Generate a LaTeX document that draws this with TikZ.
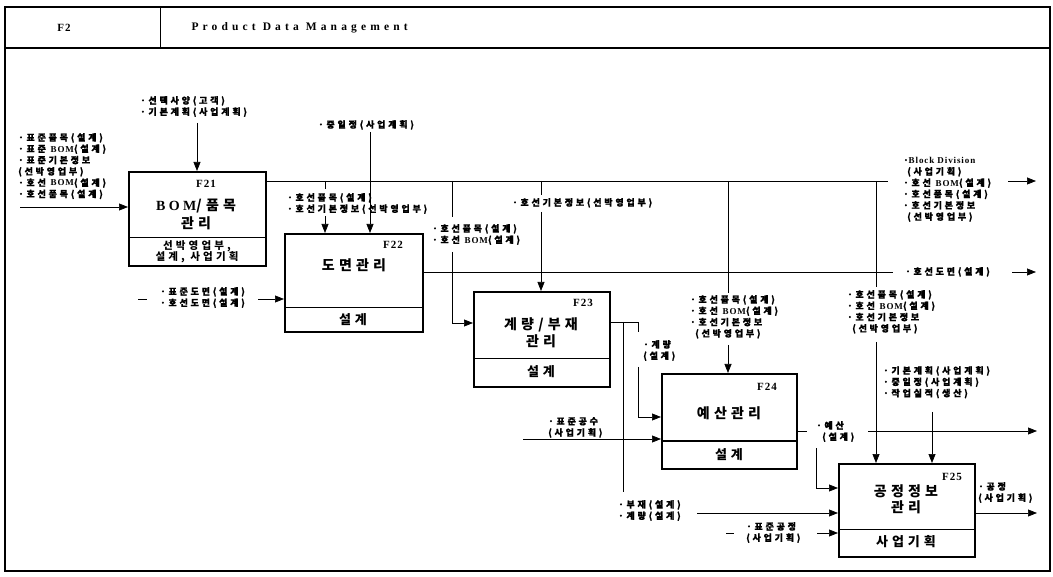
\documentclass[tikz,border=0pt]{standalone}
\usepackage{fontspec}
\setmainfont{Liberation Serif}
\newfontfamily\kr{Noto Sans CJK KR}[LetterSpace=30]
\newfontfamily\krl{Noto Sans CJK KR}[LetterSpace=31, BoldFeatures={FakeBold=0.8}]
\newfontfamily\lat{Liberation Serif}[LetterSpace=10]
\newfontfamily\latw{Liberation Serif}[LetterSpace=25]
\newfontfamily\latx{Liberation Serif}[LetterSpace=36]
\usetikzlibrary{arrows.meta,calc}
\newcommand\La[1]{{\lat #1}}
\tikzset{
 fbox/.style={draw, line width=1.6pt, anchor=north west, inner sep=0pt},
 lbl/.style={font=\krl\bfseries\fontsize{9}{11.3}\selectfont, align=left, inner sep=0pt, anchor=north west},
 ttl/.style={font=\kr\bfseries\fontsize{14}{17}\selectfont, inner sep=0pt, align=center},
 mech/.style={font=\kr\bfseries\fontsize{13}{15}\selectfont, inner sep=0pt, align=center},
 fid/.style={font=\lat\bfseries\fontsize{11}{13}\selectfont, inner sep=0pt},
 ln/.style={line width=0.7pt},
 arr/.style={ln, -{Triangle[length=9pt,width=7pt]}},
 div/.style={line width=1pt},
}
\begin{document}
\begin{tikzpicture}[x=1pt,y=-1pt]
\useasboundingbox (0,0) rectangle (1053,577);
\fill[white] (0,0) rectangle (1053,577);
% frame
\draw[line width=1.3pt] (5,7) rectangle (1050,571);
\draw[line width=1.8pt] (5,48) -- (1050,48);
\draw[line width=1pt] (160,7) -- (160,48);
\node[font=\lat\bfseries\fontsize{11}{13}\selectfont] (tf2) at (64,28) {F2};
\node[font=\latx\bfseries\fontsize{11.5}{13}\selectfont, anchor=west] (tpdm) at (188,28) {Product Data Management};

% boxes
\node[fbox, minimum width=137pt, minimum height=94pt] (f21) at (128,171) {};
\node[fbox, minimum width=138pt, minimum height=98pt] (f22) at (284,233) {};
\node[fbox, minimum width=136pt, minimum height=95pt] (f23) at (473,291) {};
\node[fbox, minimum width=135pt, minimum height=95pt] (f24) at (661,373) {};
\node[fbox, minimum width=136pt, minimum height=93pt] (f25) at (838,463) {};

\draw[div] (f21.west |- 0,238) -- (f21.east |- 0,238);
\draw[div] (f22.west |- 0,308) -- (f22.east |- 0,308);
\draw[div] (f23.west |- 0,359) -- (f23.east |- 0,359);
\draw[div] (f24.west |- 0,441) -- (f24.east |- 0,441);
\draw[div] (f25.west |- 0,529) -- (f25.east |- 0,529);

\node[fid] (n21) at (206,184) {F21};
\node[ttl] (a21) at (196,206) {{\latw BOM}/품목};
\node[ttl] (b21) at (196,223) {관리};
\node[mech, font=\kr\bfseries\fontsize{10.5}{11.5}\selectfont] (m21) at (197,252) {선박영업부,\\설계, 사업기획};

\node[fid] (n22) at (393,245) {F22};
\node[ttl] (a22) at (354,265) {도면관리};
\node[mech] (m22) at (353,320) {설계};

\node[fid] (n23) at (583,303) {F23};
\node[ttl] (a23) at (541,333) {계량/부재\\관리};
\node[mech] (m23) at (541,372) {설계};

\node[fid] (n24) at (767,387) {F24};
\node[ttl] (a24) at (729,413) {예산관리};
\node[mech] (m24) at (729,455) {설계};

\node[fid] (n25) at (952,477) {F25};
\node[ttl, font=\kr\bfseries\fontsize{14}{16}\selectfont] (a25) at (906,499) {공정정보\\관리};
\node[mech] (m25) at (906,542) {사업기획};

% F21 top control
\node[lbl] (l1) at (140,96) {·선택사양(고객)\\·기본계획(사업계획)};
\coordinate (c1) at (197,123);
\draw[arr] (c1) -- (c1 |- f21.north);

% F21 left input
\node[lbl] (l2) at (18,133) {·표준품목(설계)\\·표준 \La{BOM}(설계)\\·표준기본정보\\(선박영업부)\\·호선 \La{BOM}(설계)\\·호선품목(설계)};
\coordinate (c2) at (20,207);
\draw[arr] (c2) -- (c2 -| f21.west);

% bus from F21
\coordinate (bus0) at ($(f21.north east)+(0,10)$);
\coordinate (busE) at (888,181);
\draw[ln] (bus0) -- (busE);
\coordinate (o1a) at (1008,181);
\coordinate (o1b) at (1036,181);
\draw[arr] (o1a) -- (o1b);
\node[lbl] (l3) at (903,157) {·\La{Block Division}\\\hspace{4pt}(사업기획)\\·호선 \La{BOM}(설계)\\·호선품목(설계)\\·호선기본정보\\\hspace{4pt}(선박영업부)};

% F22 top branch
\coordinate (d1) at (325,181);
\coordinate (d2) at (325,189);
\coordinate (d3) at (325,216);
\draw[ln] (d1) -- (d2);
\draw[arr] (d3) -- (d3 |- f22.north);
\node[lbl] (l4) at (287,193) {·호선품목(설계)\\·호선기본정보(선박영업부)};
\node[lbl] (l5) at (318,120) {·중일정(사업계획)};
\coordinate (e1) at (370,132);
\draw[arr] (e1) -- (e1 |- f22.north);

% F22 left input
\coordinate (g1) at (138,299);
\coordinate (g2) at (147,299);
\coordinate (g3) at (258,299);
\draw[ln] (g1) -- (g2);
\draw[arr] (g3) -- (g3 -| f22.west);
\node[lbl] (l6) at (160,287) {·표준도면(설계)\\·호선도면(설계)};

% F22 output
\coordinate (h0) at (f22.east |- 0,272);
\coordinate (h1) at (893,272);
\draw[ln] (h0) -- (h1);
\coordinate (h2) at (1012,272);
\coordinate (h3) at (1036,272);
\draw[arr] (h2) -- (h3);
\node[lbl] (l7) at (905,267) {·호선도면(설계)};

% F23 left input
\coordinate (i1) at (452,181);
\coordinate (i2) at (452,217);
\coordinate (i3) at (452,252);
\coordinate (i4) at (452,323);
\draw[ln] (i1) -- (i2);
\draw[arr] (i3) -- (i4) -- (i4 -| f23.west);
\node[lbl] (l8) at (432,224) {·호선품목(설계)\\·호선 \La{BOM}(설계)};

% F23 top
\coordinate (j1) at (541,181);
\coordinate (j2) at (541,195);
\coordinate (j3) at (541,212);
\draw[ln] (j1) -- (j2);
\draw[arr] (j3) -- (j3 |- f23.north);
\node[lbl] (l9) at (512,198) {·호선기본정보(선박영업부)};

% F23 output to F24
\coordinate (k0) at (f23.east |- 0,322);
\coordinate (k1) at (638,322);
\coordinate (k2) at (638,332);
\coordinate (k3) at (638,367);
\coordinate (k4) at (638,417);
\draw[ln] (k0) -- (k1) -- (k2);
\draw[arr] (k3) -- (k4) -- (k4 -| f24.west);
\node[lbl] (l10) at (643,340) {·계량\\(설계)};

% F23 output to F25
\coordinate (m1) at (623,322);
\coordinate (m2) at (623,492);
\coordinate (m3) at (697,513);
\draw[ln] (m1) -- (m2);
\draw[arr] (m3) -- (m3 -| f25.west);
\node[lbl] (l11) at (618,500) {·부재(설계)\\·계량(설계)};

% F24 left input
\coordinate (p1) at (523,439);
\draw[arr] (p1) -- (p1 -| f24.west);
\node[lbl] (l12) at (548,417) {·표준공수\\(사업기획)};

% F24 top
\coordinate (q1) at (728,181);
\coordinate (q2) at (728,293);
\coordinate (q3) at (728,345);
\draw[ln] (q1) -- (q2);
\draw[arr] (q3) -- (q3 |- f24.north);
\node[lbl] (l13) at (690,295) {·호선품목(설계)\\·호선 \La{BOM}(설계)\\·호선기본정보\\\hspace{5pt}(선박영업부)};

% F25 top from bus
\coordinate (r1) at (876,181);
\coordinate (r2) at (876,287);
\coordinate (r3) at (876,342);
\draw[ln] (r1) -- (r2);
\draw[arr] (r3) -- (r3 |- f25.north);
\node[lbl] (l14) at (847,290) {·호선품목(설계)\\·호선 \La{BOM}(설계)\\·호선기본정보\\\hspace{5pt}(선박영업부)};

% F25 top 2
\node[lbl] (l15) at (883,366) {·기본계획(사업계획)\\·중일정(사업계획)\\·작업실적(생산)};
\coordinate (s1) at (932,412);
\draw[arr] (s1) -- (s1 |- f25.north);

% F24 output
\coordinate (t0) at (f24.east |- 0,431);
\coordinate (t1) at (807,431);
\coordinate (t2) at (868,431);
\coordinate (t3) at (1037,431);
\draw[ln] (t0) -- (t1);
\draw[arr] (t2) -- (t3);
\coordinate (t4) at (816,448);
\coordinate (t5) at (816,488);
\draw[arr] (t4) -- (t5) -- (t5 -| f25.west);
\node[lbl] (l16) at (816,421) {·예산\\\hspace{6pt}(설계)};

% F25 left input
\coordinate (u1) at (726,533);
\coordinate (u2) at (734,533);
\coordinate (u3) at (817,533);
\draw[ln] (u1) -- (u2);
\draw[arr] (u3) -- (u3 -| f25.west);
\node[lbl] (l17) at (746,522) {·표준공정\\(사업기획)};

% F25 output
\coordinate (v0) at (f25.east |- 0,513);
\coordinate (v1) at (1037,513);
\draw[arr] (v0) -- (v1);
\node[lbl] (l18) at (978,482) {·공정\\(사업기획)};
\end{tikzpicture}
\end{document}
